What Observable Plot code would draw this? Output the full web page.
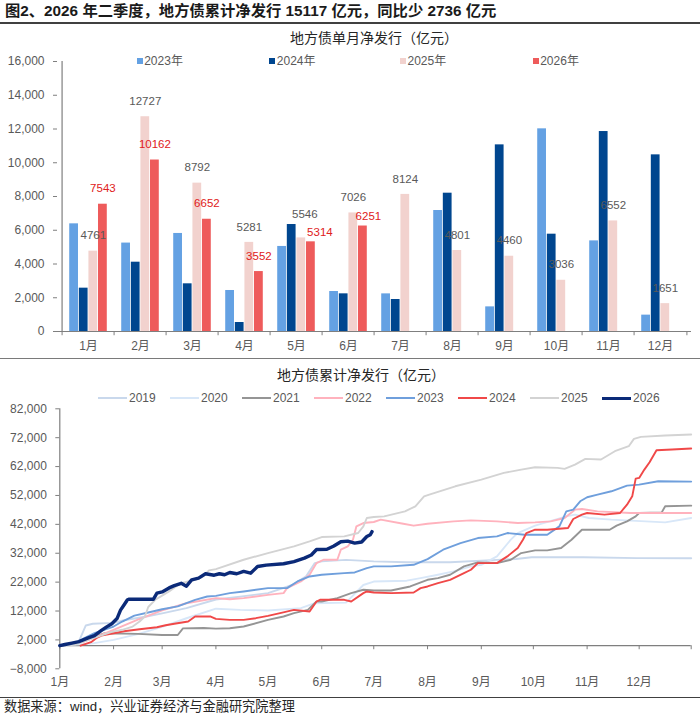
<!DOCTYPE html>
<html><head><meta charset="utf-8">
<script src="https://cdn.jsdelivr.net/npm/d3@7"></script>
<script src="https://cdn.jsdelivr.net/npm/@observablehq/plot@0.6"></script>
<style>
body{margin:0;background:#fff;}
#root{position:relative;width:700px;height:716px;overflow:hidden;font-family:"Liberation Sans","Noto Sans CJK SC",sans-serif;color:#595959;}
.abs{position:absolute;white-space:nowrap;line-height:1;}
.hr{position:absolute;left:0;width:700px;}
svg{position:absolute;left:0;}
</style></head><body><div id="root"></div>
<script>
// ---------- data ----------
const months = ["1月","2月","3月","4月","5月","6月","7月","8月","9月","10月","11月","12月"];
const barYears = ["2023年","2024年","2025年","2026年"];
const bar2023 = [6380,5240,5810,2430,5040,2370,2230,7170,1460,12010,5370,970];
const bar2024 = [2568,4107,2826,533,6340,2232,1896,8196,11060,5767,11850,10468];
const bar2025 = [4761,12727,8792,5281,5546,7026,8124,4801,4460,3036,6552,1651];
const bar2026 = [7543,10162,6652,3552,5314,6251];
const yTicksTop = [0,2000,4000,6000,8000,10000,12000,14000,16000];

const lineYears = ["2019","2020","2021","2022","2023","2024","2025","2026"];
const cum2019 = [["01-01",0],["01-12",1500],["01-16",7000],["01-20",7600],["02-01",7900],["02-07",8800],["02-20",10100],["03-01",11200],["03-15",13000],["04-01",16000],["04-15",17000],["05-01",18200],["05-15",21000],["05-23",24000],["05-28",28600],["06-01",29200],["06-15",29700],["07-01",29200],["07-20",28900],["08-14",28900],["09-10",29700],["09-21",30000],["09-30",30600],["10-30",30600],["11-30",30300],["12-31",30250]];
const cum2020 = [["01-01",0],["01-20",800],["02-01",2000],["02-15",4000],["03-01",6500],["03-15",9500],["04-01",12800],["04-15",12400],["05-01",12200],["05-20",13000],["05-28",14700],["06-15",14900],["06-25",21000],["07-01",22200],["07-20",22500],["07-28",23400],["08-07",24550],["08-16",25700],["08-26",27440],["09-01",28000],["09-10",30900],["09-18",36700],["09-22",39000],["10-02",41540],["10-20",44780],["10-25",45350],["11-02",44200],["11-15",43620],["12-16",42700],["12-31",44200]];
const cum2021 = [["01-01",0],["01-10",900],["01-27",4300],["02-15",4100],["03-01",3700],["03-10",3700],["03-13",6000],["03-25",6100],["04-01",5900],["04-09",6050],["04-17",6630],["05-01",8940],["05-10",10100],["05-16",11250],["05-24",12400],["05-29",15290],["06-01",15290],["06-10",16460],["06-18",18190],["06-25",19350],["07-01",19110],["07-11",19110],["07-22",20500],["08-01",22810],["08-07",23390],["08-14",24550],["08-22",27440],["08-30",28830],["09-10",28600],["09-18",29750],["09-24",32060],["10-02",32990],["10-09",32990],["10-17",33800],["10-23",36680],["10-29",40150],["11-14",40150],["11-18",41540],["11-24",43040],["11-29",44780],["12-01",45930],["12-14",46150],["12-16",48250],["12-31",48480]];
const cum2022 = [["01-01",0],["01-15",1400],["02-01",5500],["02-15",9000],["03-01",12200],["03-15",14700],["04-01",16460],["04-09",16100],["04-17",16460],["05-01",17600],["05-10",18190],["05-12",19920],["05-20",22230],["05-25",24550],["05-29",28600],["06-02",29750],["06-10",29750],["06-12",33220],["06-16",34370],["06-19",36680],["06-21",41310],["06-25",42460],["07-01",42810],["07-05",43620],["07-18",42230],["07-24",41540],["08-01",42230],["08-16",43040],["08-26",43390],["09-10",43040],["09-22",42460],["10-02",42700],["10-11",43040],["10-19",44200],["10-25",47090],["10-29",47320],["11-07",46510],["11-26",45930],["12-31",45930]];
const cum2023 = [["01-01",0],["01-10",850],["01-14",2240],["01-21",4320],["02-01",6630],["02-06",8360],["02-13",10400],["02-21",11500],["03-01",12600],["03-10",13600],["03-20",15880],["03-27",17030],["04-01",17260],["04-09",18180],["04-17",18770],["05-01",19920],["05-12",19920],["05-18",22230],["05-25",23970],["06-01",24550],["06-14",25130],["06-20",25360],["06-27",26860],["07-01",27440],["07-11",27440],["07-24",28010],["08-01",29980],["08-10",33220],["08-20",35530],["08-30",37260],["09-10",37840],["09-16",38990],["09-26",38420],["10-09",38420],["10-16",41310],["10-20",46510],["10-24",47090],["10-28",49980],["11-01",51370],["11-07",52290],["11-15",53450],["11-24",55410],["12-01",55760],["12-12",56910],["12-31",56800]];
const cum2024 = [["01-13",0],["01-19",1200],["01-22",2600],["01-25",3500],["02-01",4300],["02-07",5000],["02-16",5700],["02-26",6400],["03-03",7060],["03-08",7600],["03-16",8360],["03-20",10100],["03-29",10100],["04-01",9290],["04-09",8940],["04-17",8940],["04-24",9520],["05-01",10330],["05-08",11250],["05-16",12400],["05-25",11830],["05-29",15300],["05-31",15880],["06-14",15880],["06-18",15300],["06-25",18190],["06-27",18770],["07-01",18420],["07-11",18190],["07-24",18420],["07-28",19920],["08-01",20500],["08-07",21660],["08-14",22810],["08-22",25120],["08-26",26280],["08-30",28590],["09-10",28590],["09-16",30900],["09-22",33800],["09-25",36680],["09-27",39000],["10-02",40150],["10-09",40150],["10-21",40730],["10-24",43850],["10-29",45350],["11-01",45930],["11-11",45350],["11-20",45930],["11-24",48820],["11-27",51700],["11-29",57840],["12-01",58070],["12-04",60960],["12-07",63500],["12-11",67670],["12-20",67900],["12-31",68240]];
const cum2025 = [["01-01",0],["01-10",500],["01-20",2500],["01-31",4761],["02-06",5500],["02-12",6630],["02-16",8360],["02-19",10100],["02-21",13400],["02-25",15880],["02-28",17000],["03-05",18800],["03-09",20500],["03-12",21660],["03-16",22230],["03-20",22810],["03-24",23740],["03-28",26050],["04-01",26510],["04-17",29750],["05-01",32060],["05-16",34370],["05-25",36100],["06-01",37610],["06-14",37840],["06-22",39000],["06-25",41300],["06-27",44200],["07-01",44550],["07-07",44780],["07-19",46510],["07-25",48250],["07-30",51700],["08-02",52300],["08-17",55180],["09-01",57500],["09-14",59800],["09-24",60960],["10-02",61770],["10-15",61540],["10-19",61200],["10-25",62700],["10-31",64660],["11-09",64430],["11-17",67320],["11-25",69050],["11-28",71600],["12-02",72290],["12-16",72750],["12-31",73100]];
const cum2026 = [["01-01",0],["01-04",400],["01-08",900],["01-12",1400],["01-17",2600],["01-21",3500],["01-25",5300],["01-28",6500],["01-31",7600],["02-03",9400],["02-05",12300],["02-07",14100],["02-09",15900],["02-10",16100],["02-24",16100],["02-26",18200],["03-01",18600],["03-05",20000],["03-08",20800],["03-12",21600],["03-15",20600],["03-18",22800],["03-22",23400],["03-26",24900],["03-31",24400],["04-03",24900],["04-06",24550],["04-09",25350],["04-13",24900],["04-17",25700],["04-21",25100],["04-25",27400],["04-30",27900],["05-10",28350],["05-16",29100],["05-22",30300],["05-26",31400],["05-29",33300],["06-04",33400],["06-08",34500],["06-12",36000],["06-16",36200],["06-20",35500],["06-24",35900],["06-27",37800],["06-29",38400],["06-30",39474]];
const yTicksBottom = [-8000,2000,12000,22000,32000,42000,52000,62000,72000,82000];

// ---------- styles ----------
const barColors = ["#64a1e3","#00468f","#f2d2ce","#ee5b5b"];
const lineColors = ["#c9d8ec","#d8e7f8","#959595","#ffb2bd","#6f9fdc","#f04848","#d3d3d3","#0b2a78"];
const FONT = '"Liberation Sans","Noto Sans CJK SC",sans-serif';
const root = document.getElementById("root");
function addDiv(html, css){const d=document.createElement("div");d.className="abs";d.innerHTML=html;Object.assign(d.style,css);root.appendChild(d);return d;}
function addRule(t,h,color){const d=document.createElement("div");d.className="hr";Object.assign(d.style,{top:t+"px",height:h+"px",background:color});root.appendChild(d);}

// Title and rules
addDiv("图2、2026 年二季度，地方债累计净发行 15117 亿元，同比少 2736 亿元",{left:"5px",top:"3px",fontSize:"15.3px",fontWeight:"bold",color:"#1a1a1a"});
addRule(21.7,2,"#404040");
addDiv("地方债单月净发行（亿元）",{left:"290px",top:"31px",fontSize:"14px",color:"#262626"});
addRule(357.8,1.5,"#7a7a7a");
addDiv("地方债累计净发行（亿元）",{left:"277px",top:"368px",fontSize:"14px",color:"#262626"});
addRule(696.5,1.5,"#404040");
addDiv("数据来源：wind，兴业证券经济与金融研究院整理",{left:"4px",top:"700px",fontSize:"13.2px",color:"#262626"});

// ---------- top bar chart ----------
const mL=57, mR=9, W=700;
const bw = (W-mL-mR)/months.length;
const barW = 9.6, pad = (bw - 4*barW)/2;
const barSeries = [bar2023,bar2024,bar2025,bar2026];
const barRows = [];
barSeries.forEach((arr,si)=>arr.forEach((v,mi)=>barRows.push({month:months[mi],series:barYears[si],si,value:v})));
// label nudges in pixels [dx extra, dy]
const special = {"5月|2025年":[3.5,-24],"5月|2026年":[9,-10],"6月|2026年":[5.5,-10]};
const keyOf = d=>d.month+"|"+d.series;
const centerOf = si => pad + (si+0.5)*barW - bw/2;

const labelMarks = [];
[2,3].forEach(si=>{
  const rows = barRows.filter(d=>d.si===si);
  const fill = si===3 ? "#e02020" : "#595959";
  labelMarks.push(Plot.text(rows.filter(d=>!special[keyOf(d)]),{x:"month",y:"value",text:d=>String(d.value),dx:centerOf(si),dy:-15.5,fill,fontSize:11.5}));
  rows.filter(d=>special[keyOf(d)]).forEach(d=>{
    const [ox,oy]=special[keyOf(d)];
    labelMarks.push(Plot.text([d],{x:"month",y:"value",text:d=>String(d.value),dx:centerOf(si)+ox,dy:oy,fill,fontSize:11.5}));
  });
});

const topChart = Plot.plot({
  width:W, height:330, marginTop:33, marginBottom:27, marginLeft:mL, marginRight:mR,
  style:{fontFamily:FONT,fontSize:"12px",background:"transparent",overflow:"visible"},
  x:{type:"band",domain:months,padding:0,axis:null,label:null},
  y:{domain:[0,16000],axis:null,label:null},
  color:{domain:barYears,range:barColors},
  marks:[
    ...barYears.map((s,si)=>Plot.barY(barRows.filter(d=>d.si===si),{x:"month",y:"value",fill:"series",insetLeft:pad+si*barW,insetRight:bw-pad-(si+1)*barW})),
    Plot.ruleY([0],{stroke:"#7f7f7f",strokeWidth:1.2}),
    Plot.ruleX([months[0]],{dx:-bw/2,y1:0,y2:16000,stroke:"#7f7f7f",strokeWidth:1.2}),
    Plot.ruleX(months,{dx:-bw/2,y1:0,y2:-250,stroke:"#7f7f7f"}),
    Plot.ruleX([months[11]],{dx:bw/2,y1:0,y2:-250,stroke:"#7f7f7f"}),
    Plot.axisY({ticks:yTicksTop,tickFormat:d3.format(","),tickSize:4,tickPadding:9,color:"#595959",stroke:"#7f7f7f",label:null}),
    Plot.axisX({tickSize:0,tickPadding:10,color:"#595959",label:null}),
    ...labelMarks
  ]
});
topChart.style.top="28px";
root.appendChild(topChart);

// top legend
const legXs=[136.7,269.3,400,532.7];
barYears.forEach((s,i)=>{
  addDiv(`<span style="display:inline-block;width:6px;height:6px;background:${barColors[i]};margin-right:1.5px;vertical-align:1px"></span>${s}`,{left:legXs[i]+"px",top:"55px",fontSize:"12px",color:"#595959"});
});

// ---------- bottom line chart ----------
const parse = s => new Date(`2001-${s}T00:00:00Z`);
const cumSeries=[cum2019,cum2020,cum2021,cum2022,cum2023,cum2024,cum2025,cum2026];
const lineRows=[];
cumSeries.forEach((arr,i)=>arr.forEach(([md,v])=>lineRows.push({year:lineYears[i],date:parse(md),value:v})));
const monthStarts = d3.range(12).map(m=>new Date(Date.UTC(2001,m,1)));
const tickDates = [...monthStarts, parse("12-31")];

const bottomChart = Plot.plot({
  width:W, height:335, marginTop:46.3, marginBottom:28.7, marginLeft:59.3, marginRight:9.3,
  style:{fontFamily:FONT,fontSize:"12px",background:"transparent",overflow:"visible"},
  x:{type:"utc",domain:[parse("01-01"),parse("12-31")],axis:null,label:null},
  y:{domain:[-8000,82000],axis:null,label:null},
  color:{domain:lineYears,range:lineColors},
  marks:[
    Plot.ruleY([0],{stroke:"#7f7f7f",strokeWidth:1.2}),
    Plot.ruleX([parse("01-01")],{y1:-8000,y2:82000,stroke:"#7f7f7f",strokeWidth:1.2}),
    Plot.ruleX(tickDates,{y1:0,y2:-1400,stroke:"#7f7f7f"}),
    Plot.axisY({ticks:yTicksBottom,tickFormat:d3.format(","),tickSize:4,tickPadding:9,color:"#595959",stroke:"#7f7f7f",label:null}),
    Plot.axisX({ticks:monthStarts,tickFormat:d=>`${d.getUTCMonth()+1}月`,tickSize:0,tickPadding:9,color:"#595959",label:null}),
    Plot.line(lineRows.filter(d=>d.year!=="2026"),{x:"date",y:"value",z:"year",stroke:"year",strokeWidth:1.9}),
    Plot.line(lineRows.filter(d=>d.year==="2026"),{x:"date",y:"value",z:"year",stroke:"year",strokeWidth:3.4})
  ]
});
bottomChart.style.top="362px";
root.appendChild(bottomChart);

// bottom legend
lineYears.forEach((s,i)=>{
  const x = 98 + 72*i;
  const h = s==="2026" ? 3.4 : 2;
  const sw=document.createElement("div");
  Object.assign(sw.style,{position:"absolute",left:x+"px",top:(398.3-h/2)+"px",width:"29px",height:h+"px",background:lineColors[i]});
  root.appendChild(sw);
  addDiv(s,{left:(x+31)+"px",top:"392px",fontSize:"12px",color:"#595959"});
});
</script></body></html>
